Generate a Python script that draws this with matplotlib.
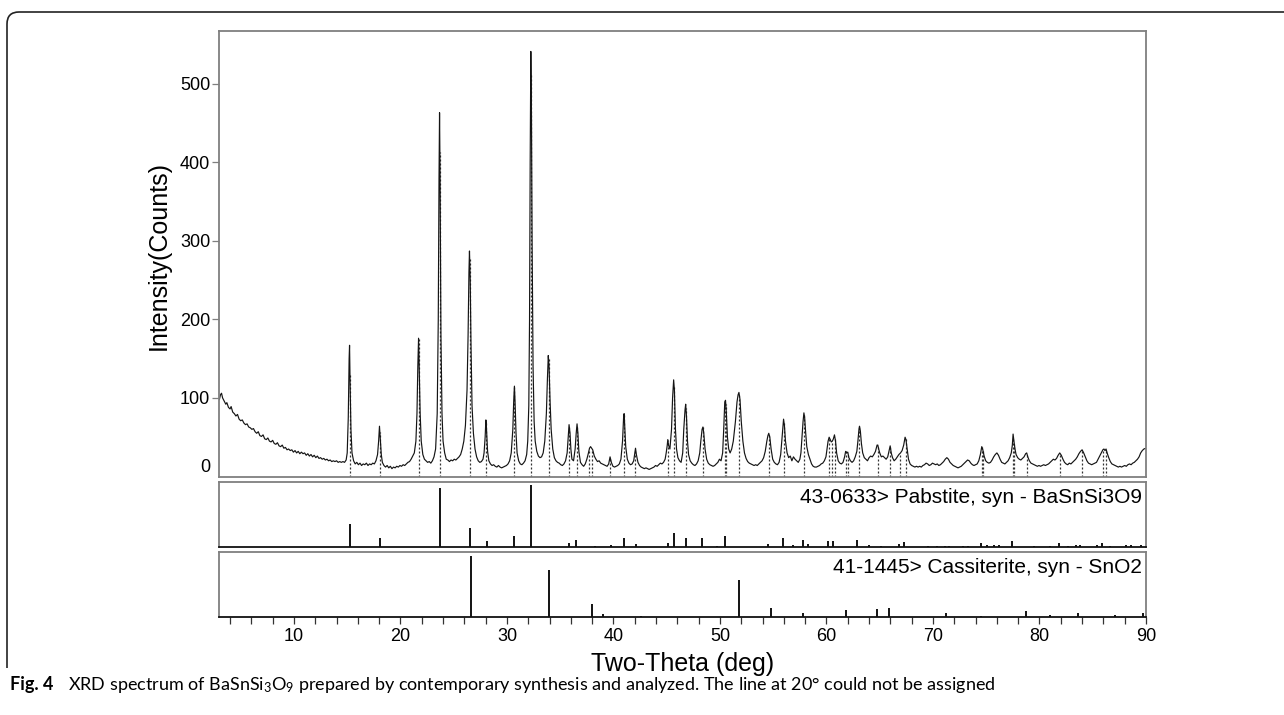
import numpy as np
import matplotlib
matplotlib.use('Agg')
import matplotlib.pyplot as plt
from matplotlib.path import Path
from matplotlib.patches import PathPatch
from matplotlib.ticker import MultipleLocator

# ---------------- data ----------------
two_theta = [
 3.0,3.1,3.2,3.3,3.45,3.6,3.7,3.85,4.0,4.1,4.25,4.4,4.55,4.7,4.85,5.0,5.15,5.3,5.45,5.6,5.75,5.9,6.05,6.2,6.35,6.5,6.65,6.8,6.95,7.1,
 7.25,7.4,7.55,7.7,7.85,8.0,8.15,8.3,8.45,8.6,8.75,8.9,9.05,9.2,9.35,9.5,9.65,9.8,9.95,10.1,10.25,10.4,10.55,10.7,10.85,11.0,11.15,11.3,11.45,11.6,
 11.75,11.9,12.05,12.2,12.35,12.5,12.65,12.8,12.95,13.1,13.25,13.4,13.55,13.7,13.85,14.0,14.15,14.3,14.45,14.6,14.75,14.9,
 15.0,15.1,15.18,15.22,15.27,15.35,15.45,15.6,
 15.75,15.9,16.05,16.2,16.35,16.5,16.65,16.8,16.95,17.1,17.25,17.4,17.55,17.7,
 17.85,17.95,18.03,18.1,18.2,18.3,
 18.45,18.6,18.75,18.9,19.05,19.2,19.35,19.5,19.65,19.8,19.95,20.1,20.25,20.4,20.55,20.7,20.85,21.0,21.15,21.3,21.45,
 21.55,21.63,21.7,21.76,21.85,21.95,22.1,22.25,22.4,22.55,22.7,22.85,23.0,23.15,23.3,23.45,
 23.55,23.62,23.67,23.72,23.8,23.9,24.0,24.15,24.3,24.45,24.6,24.75,24.9,25.05,25.2,25.35,25.5,25.65,25.8,25.95,26.1,26.25,
 26.35,26.43,26.48,26.55,26.62,26.72,26.85,27.0,27.15,27.3,27.45,27.6,27.75,27.85,
 27.95,28.02,28.08,28.18,28.3,28.45,28.6,28.75,28.9,29.05,29.2,29.35,29.5,29.65,29.8,29.95,30.1,30.25,30.4,30.55,
 30.63,30.7,30.76,30.85,30.95,31.1,31.25,31.4,31.55,31.7,31.85,31.95,32.05,32.12,
 32.18,32.24,32.3,32.36,32.45,32.55,32.65,32.8,32.95,33.1,33.25,33.4,33.55,33.7,
 33.8,33.88,33.95,34.05,34.15,34.3,34.45,34.6,34.75,34.9,35.05,35.2,35.35,35.5,35.65,35.75,
 35.83,35.92,36.0,36.1,36.25,36.4,
 36.5,36.58,36.66,36.75,36.9,37.05,37.2,37.35,37.5,37.65,
 37.75,37.85,37.95,38.05,38.2,38.35,38.5,38.65,38.8,38.95,39.1,39.25,39.4,39.55,
 39.68,39.8,39.95,40.1,40.25,40.4,40.55,40.7,40.85,
 40.95,41.0,41.07,41.15,41.3,41.45,41.6,41.75,41.9,
 42.0,42.07,42.15,42.3,42.45,42.6,42.75,42.9,43.05,43.2,43.35,43.5,43.65,43.8,43.95,44.1,44.25,44.4,44.55,44.7,44.85,44.95,
 45.05,45.1,45.17,45.3,45.45,45.55,
 45.65,45.72,45.82,45.92,46.05,46.2,46.35,46.5,46.6,
 46.72,46.78,46.86,46.95,47.05,47.2,47.35,47.5,47.65,47.8,47.95,48.1,48.2,
 48.32,48.4,48.48,48.6,48.75,48.9,49.05,49.2,49.35,49.5,49.65,49.8,49.95,50.1,50.25,50.35,
 50.45,50.52,50.6,50.7,50.82,50.95,51.1,51.25,51.45,51.6,
 51.7,51.78,51.88,52.0,52.15,52.3,52.45,52.6,52.75,52.9,53.05,53.2,53.35,53.5,53.65,53.8,53.95,54.1,54.25,54.4,
 54.5,54.58,54.68,54.8,54.95,55.1,55.25,55.4,55.55,55.7,55.8,
 55.9,55.97,56.05,56.15,56.3,56.45,56.6,56.75,56.9,57.05,57.2,57.35,57.5,57.6,57.7,
 57.8,57.88,57.95,58.05,58.15,58.3,58.45,58.6,58.75,58.9,59.05,59.2,59.35,59.5,59.65,59.8,59.95,60.05,60.15,
 60.25,60.35,60.45,60.55,60.65,60.75,60.85,60.95,61.1,61.25,61.4,61.55,61.7,61.8,61.9,62.0,62.1,62.25,62.4,62.55,62.7,62.85,62.95,
 63.05,63.1,63.18,63.28,63.4,63.55,63.7,63.85,64.0,64.15,64.3,64.45,64.6,64.75,
 64.82,64.9,65.0,65.15,65.3,65.45,65.6,65.75,65.9,
 65.98,66.08,66.2,66.35,66.5,66.65,66.8,66.95,67.1,67.25,
 67.38,67.46,67.58,67.7,67.85,68.0,68.15,68.3,68.45,68.6,68.75,68.9,69.05,69.2,69.35,69.5,69.65,69.8,69.95,70.1,70.25,70.4,70.55,70.7,70.85,71.0,71.15,
 71.3,71.45,71.6,71.75,71.9,72.05,72.2,72.35,72.5,72.65,72.8,72.95,73.1,73.25,73.4,73.55,73.7,73.85,74.0,74.15,74.3,74.45,
 74.58,74.68,74.8,74.95,75.1,75.25,75.4,75.55,75.7,75.85,76.0,76.15,76.3,76.45,76.6,76.75,76.9,77.05,77.2,77.35,77.45,
 77.52,77.6,77.7,77.8,77.95,78.1,78.25,78.4,78.55,78.7,
 78.8,78.9,79.05,79.2,79.35,79.5,79.65,79.8,79.95,80.1,80.25,80.4,80.55,80.7,80.85,81.0,81.15,81.3,81.45,81.6,81.75,
 81.9,82.05,82.2,82.35,82.5,82.65,82.8,82.95,83.1,83.25,83.4,83.55,83.7,83.85,
 84.0,84.15,84.3,84.45,84.6,84.75,84.9,85.05,85.2,85.35,85.5,85.65,85.8,85.95,
 86.05,86.15,86.25,86.35,86.5,86.65,86.8,86.95,87.1,87.25,87.4,87.55,87.7,87.85,88.0,88.15,88.3,88.45,88.6,88.75,88.9,89.05,89.2,89.35,89.5,89.65,89.8,90.0]
counts = [
 98,104,106,100,96,92,94,88,86,89,82,80,77,79,73,71,72,68,66,67,63,62,60,61,57,55,57,52,51,53,
 48,47,49,45,44,46,42,41,43,39,38,40,36,37,34,35,33,34,31,33,30,32,29,31,29,30,27,29,26,28,
 25,27,24,26,23,24,22,23,21,22,20,21,19,20,19,20,18,19,18,19,18,21,
 30,75,150,167,120,60,30,20,
 16,18,15,17,14,16,15,17,14,16,15,17,16,20,
 28,45,64,50,28,18,
 14,12,14,11,13,10,12,11,13,12,14,13,15,14,16,18,19,22,26,30,45,
 80,140,176,140,80,45,28,22,20,18,19,17,20,25,35,80,
 200,380,463,380,180,80,45,30,22,21,19,21,20,22,21,23,25,28,35,45,65,110,
 180,260,287,250,170,90,55,35,25,20,18,19,22,30,
 50,72,60,32,20,16,14,15,13,12,14,12,11,12,13,14,16,20,30,60,
 95,115,95,55,30,20,16,15,17,20,28,45,90,200,
 400,541,460,300,140,70,45,32,26,24,25,30,45,80,
 125,154,140,95,60,35,24,20,18,17,15,14,16,20,30,50,
 66,55,35,22,20,35,
 55,67,55,32,18,15,13,16,22,30,
 36,38,36,34,26,22,19,20,17,16,15,14,13,16,
 25,18,13,12,13,14,16,22,45,
 75,80,60,38,22,17,15,16,20,
 30,36,28,18,14,12,11,10,11,10,9,10,11,12,14,13,15,17,16,18,22,30,
 40,47,40,35,60,100,
 123,110,60,35,24,20,18,30,60,
 85,92,75,45,28,20,17,15,14,16,20,30,45,
 60,63,55,35,22,17,15,14,13,14,16,18,22,20,30,60,
 95,97,80,50,35,30,35,45,70,95,
 104,107,98,70,45,30,23,19,17,16,15,14,15,14,16,18,20,24,32,45,
 52,55,50,35,22,18,16,15,18,28,45,
 62,73,65,45,30,24,26,20,25,22,20,18,22,30,50,
 70,81,75,55,38,28,22,16,13,12,12,13,14,16,17,20,25,35,45,
 50,47,44,45,48,53,45,30,20,17,16,18,25,32,30,31,24,20,18,20,25,32,45,
 60,64,58,42,30,24,22,20,24,26,25,28,32,40,
 40,35,30,25,26,24,22,25,34,
 39,30,24,20,22,25,28,30,33,40,
 50,47,35,22,16,14,13,12,13,12,13,12,14,15,17,16,14,15,17,16,15,16,14,15,17,19,22,
 24,22,18,16,14,13,12,11,12,13,15,17,19,21,20,17,15,14,15,16,20,28,
 38,34,26,20,18,17,18,21,25,28,30,27,22,18,17,16,18,20,24,30,40,
 54,45,35,28,24,22,21,23,25,29,
 30,25,20,17,16,15,14,13,14,13,14,15,14,15,16,18,20,22,21,23,27,
 30,27,22,18,16,15,17,16,18,20,22,25,29,32,
 34,30,25,20,17,16,15,16,17,18,22,26,30,34,
 35,33,35,30,24,19,16,15,14,13,12,13,12,13,14,13,15,16,15,17,18,20,22,25,30,33,35,36]

# positions of the reference (Pabstite) lines marked with dotted lines in the scan
marker_pos = [15.26, 18.07, 21.7, 23.7, 26.5, 28.03, 30.7, 32.26, 33.9, 35.85, 36.6,
              37.73, 38.0, 39.7, 41.0, 42.05, 45.1, 45.7, 46.8, 48.4, 50.48, 50.54,
              51.8, 54.6, 56.0, 57.9, 60.27, 60.5, 60.8, 61.8, 62.05, 63.08, 64.8,
              65.97, 66.9, 67.44, 74.6, 74.7, 77.55, 77.64, 78.8, 81.9, 84.0, 86.0, 86.25]

# 43-0633> Pabstite, syn - BaSnSi3O9  (relative intensity, %)
pab_pos = [15.26, 18.07, 23.69, 26.5, 28.08, 30.7, 32.25, 35.8, 36.5, 38.3, 39.8, 41.0,
           42.1, 45.1, 45.7, 46.8, 48.35, 49.75, 50.5, 54.5, 55.9, 56.9, 57.8, 58.3,
           60.1, 60.6, 62.9, 64.0, 65.1, 66.8, 67.3, 69.5, 70.4, 71.1, 71.5, 72.8, 73.3,
           74.5, 75.1, 75.7, 76.2, 77.4, 79.5, 81.0, 81.8, 82.7, 83.4, 83.8, 85.4, 85.9,
           86.6, 88.1, 88.6, 89.5]
pab_int = [37, 14, 95, 30, 10, 17, 100, 6, 11, 2, 4, 14,
           5, 7, 23, 15, 14, 2, 17, 5, 14, 4, 12, 5,
           9, 9, 12, 3, 2, 5, 8, 2, 2, 2, 2, 2, 2,
           7, 4, 4, 4, 9, 2, 2, 6, 2, 3, 3, 3, 7,
           2, 3, 3, 3]

# 41-1445> Cassiterite, syn - SnO2  (relative intensity, %)
cas_pos = [26.6, 33.9, 37.95, 39.0, 42.6, 51.8, 54.8, 57.8, 61.85, 64.75, 65.9, 71.2,
           74.5, 78.7, 81.0, 83.6, 87.1, 89.7]
cas_int = [100, 77, 21, 5, 2, 60, 15, 6, 12, 13, 15, 6, 2, 10, 3, 6, 3, 7]

x_ticks = [10, 20, 30, 40, 50, 60, 70, 80, 90]
y_ticks = [0, 100, 200, 300, 400, 500]
pab_label = "43-0633> Pabstite, syn - BaSnSi3O9"
cas_label = "41-1445> Cassiterite, syn - SnO2"
x_label = "Two-Theta (deg)"
y_label = "Intensity(Counts)"

# ---------------- figure ----------------
plt.rcParams['font.family'] = ['Liberation Sans', 'DejaVu Sans']
plt.rcParams['mathtext.fontset'] = 'custom'
plt.rcParams['mathtext.rm'] = 'Lato'

W, H = 1284, 715
fig = plt.figure(figsize=(W / 100, H / 100), dpi=100)

def fx(px):
    return px / W

def fy(py):
    return 1 - py / H

L, R = 219.4, 1146.0
FRAME = '#7f7f7f'

def add_panel(top, bottom):
    return fig.add_axes([fx(L), fy(bottom), (R - L) / W, (bottom - top) / H])

ax = add_panel(31, 476.5)
ax2 = add_panel(482, 547)
ax3 = add_panel(552, 617)

for a in (ax, ax2, ax3):
    a.set_xlim(3, 90)
    for s in a.spines.values():
        s.set_color(FRAME)
        s.set_linewidth(1.3)

# main scan
tt = np.array(two_theta, dtype=float)
cc = np.array(counts, dtype=float)
ax.set_ylim(0, 567)
mk = np.array(marker_pos)
ax.vlines(mk, 0, np.interp(mk, tt, cc), colors='#333333', linestyles=(0, (1.6, 1.6)), lw=0.9)
ax.plot(tt, cc, color='#151515', lw=0.85)
ax.set_yticks(y_ticks)
ax.tick_params(axis='y', direction='out', length=5, width=0.9, color=FRAME,
               labelsize=13, pad=1.5)
ax.yaxis.get_major_ticks()[0].label1.set_verticalalignment('bottom')
ax.yaxis.get_major_ticks()[0].tick1line.set_visible(False)
ax.tick_params(axis='x', bottom=False, labelbottom=False)
ax.set_ylabel(y_label, fontsize=18)
ax.yaxis.set_label_coords((171 - L) / (R - L), 0.497)

# reference patterns
ax2.set_ylim(0, 105)
ax2.vlines(pab_pos, 0, pab_int, colors='black', lw=1.3)
ax3.set_ylim(0, 106)
ax3.vlines(cas_pos, 0, cas_int, colors='black', lw=1.3)
for a, lab in ((ax2, pab_label), (ax3, cas_label)):
    a.set_yticks([])
    a.spines['bottom'].set_color('#111111')
    a.text((1141.5 - L) / (R - L), 0.672, lab, transform=a.transAxes,
           ha='right', va='baseline', fontsize=15)
ax2.tick_params(axis='x', bottom=False, labelbottom=False)

ax3.set_xticks(x_ticks)
ax3.xaxis.set_minor_locator(MultipleLocator(2))
ax3.tick_params(axis='x', which='both', direction='out', length=5, width=0.9,
                color='#333333', labelsize=13, pad=3)
ax3.set_xlabel(x_label, fontsize=18, labelpad=5)

# caption and frame
fig.text(fx(10), fy(690), "Fig. 4", fontsize=13, fontweight='bold',
         family=['Lato', 'DejaVu Sans'], va='baseline', ha='left')
fig.text(fx(68), fy(690),
         r"XRD spectrum of BaSnSi$\mathregular{_3}$O$\mathregular{_9}$ prepared by contemporary synthesis and analyzed. The line at 20° could not be assigned",
         fontsize=13, family=['Lato', 'DejaVu Sans'], va='baseline', ha='left')

verts = [(fx(7), fy(668)), (fx(7), fy(24)), (fx(7), fy(12)), (fx(19), fy(12)), (fx(1284), fy(12))]
codes = [Path.MOVETO, Path.LINETO, Path.CURVE3, Path.CURVE3, Path.LINETO]
fig.patches.append(PathPatch(Path(verts, codes), transform=fig.transFigure,
                             fill=False, lw=1.2, edgecolor='#222222'))

fig.savefig('out.png', dpi=100)
